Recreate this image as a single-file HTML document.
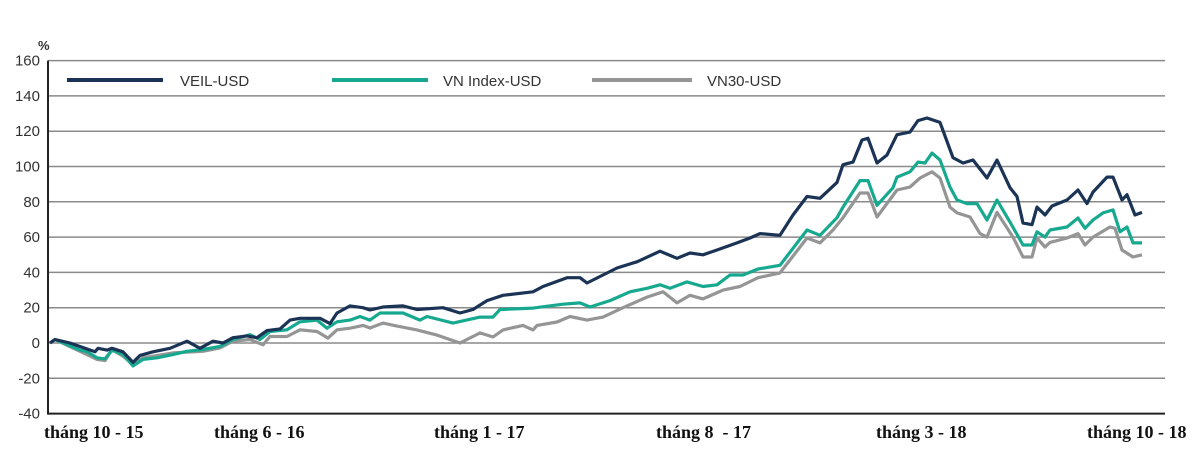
<!DOCTYPE html>
<html><head><meta charset="utf-8"><style>
body{margin:0;background:#fff;width:1200px;height:453px;overflow:hidden}
svg{display:block}
.tick{font-family:"Liberation Sans",sans-serif;font-size:15px;fill:#333;text-anchor:end}
.xl{font-family:"Liberation Serif",serif;font-size:18px;font-weight:bold;fill:#111}
.lg{font-family:"Liberation Sans",sans-serif;font-size:15px;fill:#333}
</style></head><body>
<svg id="chart" width="1200" height="453">
<g id="grid"></g>
<g id="series"></g>
<g id="legend">
<line x1="67" y1="80" x2="163" y2="80" stroke="#1b3456" stroke-width="4"/>
<text class="lg" x="180" y="86">VEIL-USD</text>
<line x1="332" y1="80" x2="428" y2="80" stroke="#17a98f" stroke-width="4"/>
<text class="lg" x="443" y="86">VN Index-USD</text>
<line x1="592" y1="80" x2="692" y2="80" stroke="#959595" stroke-width="4"/>
<text class="lg" x="707" y="86">VN30-USD</text>
</g>
<text class="lg" x="38" y="50" style="font-size:13px;font-weight:bold">%</text>
</svg>
<script>
const yTicks=[160,140,120,100,80,60,40,20,0,-20,-40];
const xLabels=["tháng 10 - 15","tháng 6 - 16","tháng 1 - 17","tháng 8  - 17","tháng 3 - 18","tháng 10 - 18"];
const xLabelDays=[-6,164,384,606,826,1037];
const veilDays=[0,5,20,35,45,48,57,62,73,83,90,103,120,137,150,163,173,183,197,207,217,230,240,250,270,280,287,300,313,320,333,353,367,393,410,423,437,453,483,493,517,530,537,553,567,587,610,627,640,653,667,687,700,710,730,743,757,770,787,793,803,812,818,827,837,847,860,868,877,890,903,913,923,937,947,960,967,973,982,987,995,1002,1017,1028,1037,1043,1057,1063,1072,1077,1085,1092];
const veilVals=[0,2,0,-3,-5,-3,-4,-3,-5,-11,-7,-5,-3,1,-3,1,0,3,4,3,7,8,13,14,14,11,17,21,20,18.7,20.4,21,19,20,17,19,24,27,29,32,37,37,34,38.5,42.5,46,52,48,51,50,52.7,56.7,59.5,62,61,72.5,83,82,91,101,102.5,115,116,102,106.5,118,119.5,126,127.5,125,105,102,103.7,93.5,103.7,88,83,68,67,77,72.5,77.6,81,86.7,79,85.5,94,94,81,84,72.5,74];
const vnDays=[0,5,30,37,47,55,62,73,83,93,107,123,137,153,170,183,200,210,220,237,250,267,277,287,300,310,320,330,353,370,377,403,430,443,450,483,513,530,540,560,580,597,610,620,637,653,667,680,693,708,730,757,770,787,793,810,818,827,843,847,860,868,875,882,890,900,907,917,927,937,947,960,973,982,987,995,1000,1017,1028,1035,1043,1053,1063,1070,1077,1083,1092];
const vnVals=[0,2,-4,-5,-8.4,-9,-4,-6.5,-13,-9.3,-8.4,-6.5,-4.7,-3.7,-1.9,2,4.7,2,6.5,7.5,12,13,8.4,12,13,15,13,17,17,13,15,11.3,14.7,14.7,19,19.8,22,22.7,20.4,24,29,31,33,31,34.6,32,33,38.5,38.5,41.9,44,64,61,71,77,92,92,78,88,94,97,102.5,102,107.6,103.7,88.4,81,79,79,69.7,81,68.5,55.5,55.5,63,60,64,65.7,70.8,65,69.7,73.7,75.4,63,65.7,56.7,56.7];
const v30Days=[0,5,30,47,55,62,73,83,93,123,153,170,183,200,213,220,237,250,267,278,287,300,313,320,333,347,367,387,410,430,443,453,473,483,487,507,520,537,553,573,597,613,627,640,653,673,690,708,730,757,770,783,793,810,818,827,847,860,870,882,890,900,907,920,930,937,947,963,973,982,987,995,1000,1017,1028,1035,1043,1060,1065,1072,1083,1092];
const v30Vals=[0,2,-4.7,-9.3,-10,-3.7,-7.5,-12,-8.4,-5.6,-4.7,-2.8,1,2,-1,3.7,3.7,7.5,6.5,2.8,7.5,8.4,10,8.5,11.3,9.6,7.4,4.5,0,5.7,3.4,7.4,10,7.4,10,11.9,15,13,14.7,20,26,29,22.7,27,25,30,32,37,39.7,59.5,56.7,64,71,85,85,71.4,86.7,88.4,93.5,97,93.5,77,73.7,71.4,62,60,74,60,48.7,48.7,59.5,54.4,57,59.5,62,55.5,60,65.7,65,52.7,48.7,50];
const NS="http://www.w3.org/2000/svg";
const X0=50,X1=1142,D1=1092,Y0=343,PPU=(413-60)/200;
const xs=d=>X0+(d/D1)*(X1-X0);
const ys=v=>Y0-v*PPU;
const grid=document.getElementById('grid');
yTicks.forEach(t=>{
 const l=document.createElementNS(NS,'line');
 l.setAttribute('x1',48);l.setAttribute('x2',1165);l.setAttribute('y1',ys(t));l.setAttribute('y2',ys(t));
 l.setAttribute('stroke',t===-40?'#222':'#8a8a8a');l.setAttribute('stroke-width',t===-40?2:1.5);
 
 
 grid.appendChild(l);
 const tx=document.createElementNS(NS,'text');
 tx.setAttribute('class','tick');tx.setAttribute('x',40);tx.setAttribute('y',ys(t)+5);tx.textContent=t;
 
 
 grid.appendChild(tx);
});
const ax=document.createElementNS(NS,'line');
ax.setAttribute('x1',48);ax.setAttribute('x2',48);ax.setAttribute('y1',ys(160));ax.setAttribute('y2',ys(-40)+1);
ax.setAttribute('stroke','#222');ax.setAttribute('stroke-width',2);


grid.appendChild(ax);
xLabels.forEach((s,i)=>{
 const tx=document.createElementNS(NS,'text');
 tx.setAttribute('class','xl');tx.setAttribute('x',xs(xLabelDays[i]));tx.setAttribute('y',438);
 tx.style.whiteSpace='pre';tx.textContent=s;
 
 
 grid.appendChild(tx);
});
const ser=document.getElementById('series');
function draw(days,vals,color,name){
 const n=Math.min(days.length,vals.length);
 let d='';
 for(let i=0;i<n;i++) d+=(i?'L':'M')+xs(days[i]).toFixed(1)+' '+ys(vals[i]).toFixed(1);
 const p=document.createElementNS(NS,'path');
 p.setAttribute('d',d);
 p.setAttribute('fill','none');p.setAttribute('stroke',color);p.setAttribute('stroke-width',3.2);p.setAttribute('stroke-linejoin','round');
 
 
 ser.appendChild(p);
}
draw(v30Days,v30Vals,'#959595','vn30-line');
draw(vnDays,vnVals,'#17a98f','vnindex-line');
draw(veilDays,veilVals,'#1b3456','veil-line');
</script>
</body></html>
